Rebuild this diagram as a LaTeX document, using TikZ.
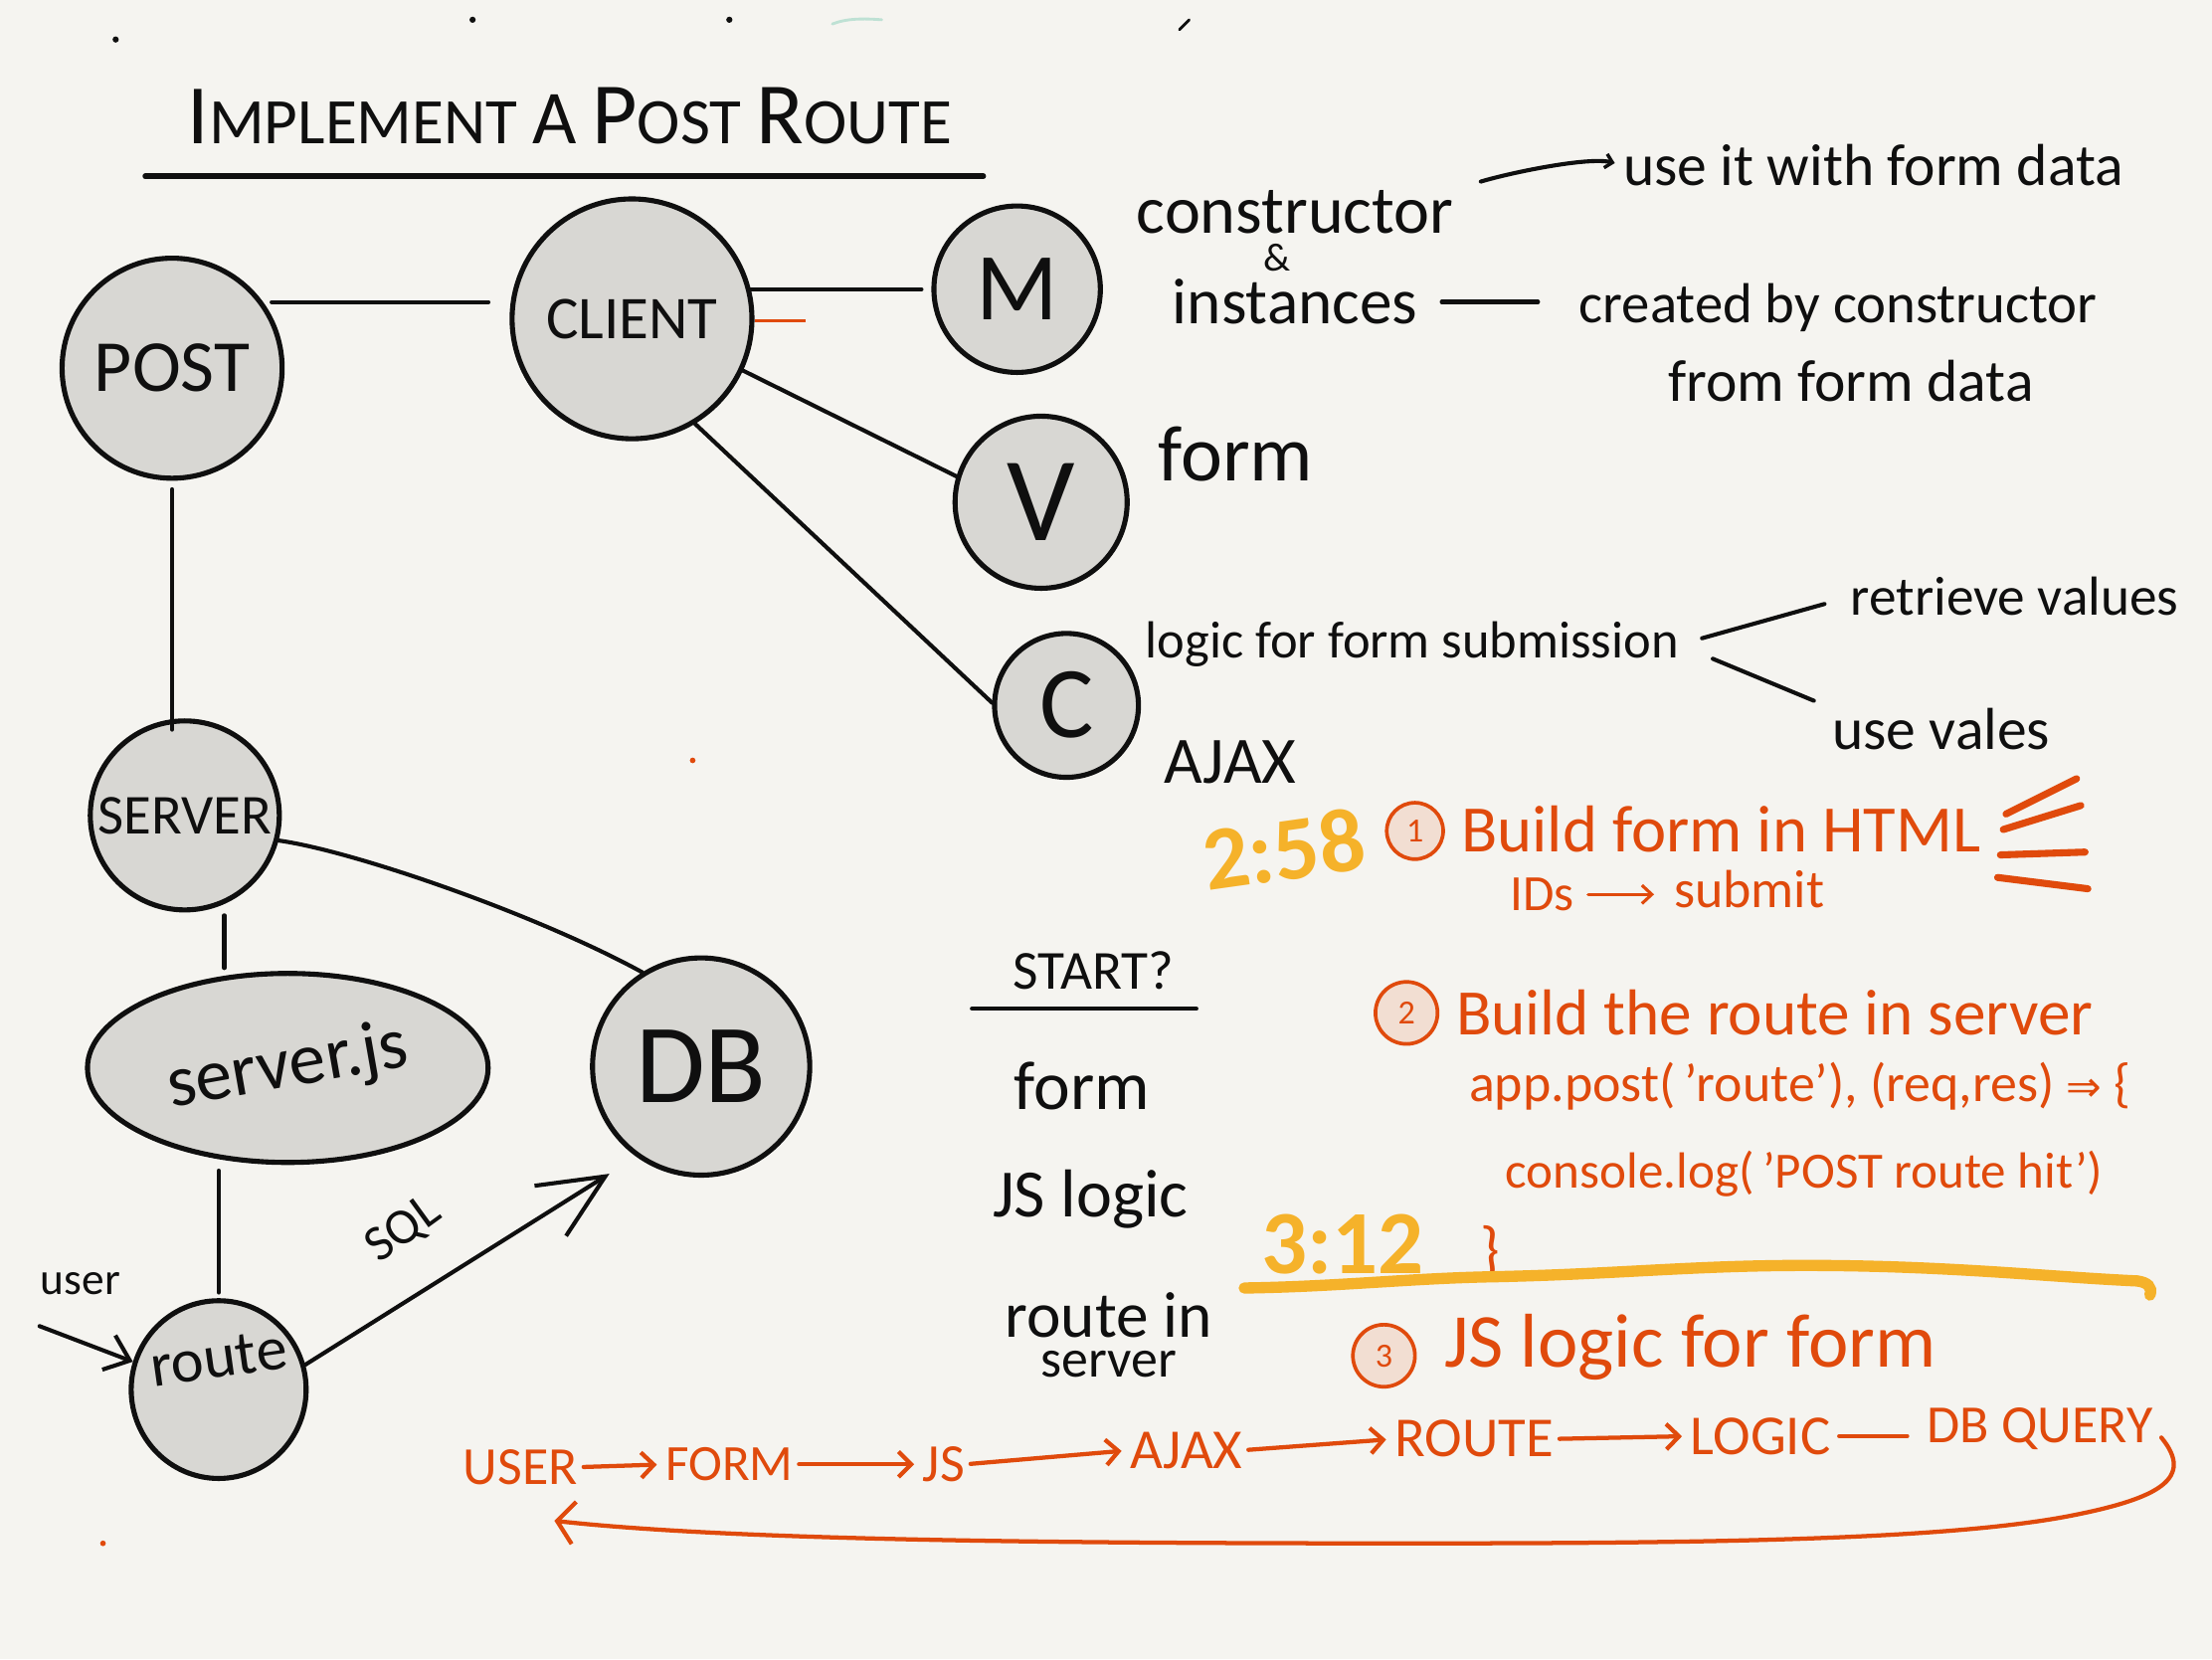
\documentclass[tikz,border=0pt]{standalone}
\usepackage{fontspec}
\setmainfont{Carlito}
\newfontfamily\dvfont{DejaVu Sans}
\usetikzlibrary{arrows.meta,shapes.geometric,calc}
\definecolor{paper}{RGB}{245,244,240}
\definecolor{ink}{RGB}{15,15,15}
\definecolor{bubblefill}{RGB}{216,215,211}
\definecolor{orng}{RGB}{224,74,12}
\definecolor{yell}{RGB}{245,178,42}
\definecolor{peach}{RGB}{242,222,210}
\definecolor{mint}{RGB}{190,225,212}
\newcommand\hs[1]{\fontsize{#1}{#1}\selectfont}
\begin{document}
\begin{tikzpicture}[x=1pt,y=-1pt,
  bubblebase/.style={draw=ink, line width=3.6pt, fill=bubblefill, inner sep=0pt, text=ink},
  bubble/.style={bubblebase, circle},
  oval/.style={bubblebase, ellipse},
  txt/.style={text=ink, inner sep=0pt},
  otxt/.style={text=orng, inner sep=0pt},
  ytxt/.style={text=yell, inner sep=0pt, font={\hs{64}\bfseries}},
  conn/.style={draw=ink, line width=2.9pt, line cap=round},
  oconn/.style={draw=orng, line width=3pt, line cap=round},
  ostroke/.style={draw=orng, line width=5pt, line cap=round},
  yline/.style={draw=yell, line width=8pt, line cap=round},
  num/.style={circle, draw=orng, fill=peach, line width=2.6pt, inner sep=0pt, minimum size=40pt, text=orng, font={\hs{24}}},
  dot/.style={fill=ink, draw=none}
]
\useasboundingbox (0,0) rectangle (1568,1176);
\fill[paper] (0,0) rectangle (1568,1176);

% stray marks
\fill[dot] (82,28) circle (2.2);
\fill[dot] (335,14) circle (2.2);
\fill[dot] (517,14) circle (2.2);
\draw[ink, line width=2pt, line cap=round] (836,21) -- (843,14);
\draw[mint, line width=2pt, line cap=round] (590,17) .. controls (600,13) and (612,13) .. (625,14);
\fill[orng] (491,539) circle (2);
\fill[orng] (73,1094) circle (2);

% title
\node[txt, font={\hs{48}}] (title) at (404,82) {{\hs{60}I}{\hs{46}MPLEMENT} {\hs{54}A} {\hs{62}P}{\hs{46}OST} {\hs{62}R}{\hs{46}OUTE}};
\draw[ink, line width=4pt, line cap=round] (103,125) -- (697,125);

% bubbles
\node[bubble, minimum size=156pt, font={\hs{52}}] (post) at (122,261) {POST};
\node[bubble, minimum size=170pt, font={\hs{43}}] (client) at (448,226) {CLIENT};
\node[bubble, minimum size=118pt, font={\hs{68}}] (m) at (721,205) {M};
\node[bubble, minimum size=122pt, font={\hs{85}}] (v) at (738,356) {V};
\node[bubble, minimum size=102pt, font={\hs{72}}] (c) at (756,500) {C};
\node[bubble, minimum size=134pt, font={\hs{40}}] (server) at (131,578) {SERVER};
\node[oval, minimum width=284pt, minimum height=134pt, font={\hs{52}}] (serverjs) at (204,757) {\makebox[0pt]{\rotatebox{10}{server.js}}};
\node[bubble, minimum size=154pt, font={\hs{80}}] (db) at (497,756) {DB};
\node[oval, minimum width=124pt, minimum height=126pt, font={\hs{44}}] (route) at (155,985) {\raisebox{2pt}[0pt][0pt]{\makebox[0pt]{\rotatebox{8}{route}}}};

% connectors between bubbles
\draw[conn, shorten <=6pt, shorten >=15pt] (post.36) -- (post.36 -| client.west);
\draw[conn, shorten >=7pt] (client.14) -- (client.14 -| m.west);
\draw[orng, line width=2pt] (client.-1) -- ++(36,0);
\draw[conn] (client.-25) -- (v.163);
\draw[conn] (client.-59) -- (c.178);
\draw[conn, shorten <=6pt, shorten >=-8pt] (post.south) -- (post.south |- server.north);
\draw[conn, shorten <=8pt, shorten >=2pt] (server.-66) -- (server.-66 |- serverjs.north);
\draw[conn, shorten <=4pt, shorten >=4pt] (serverjs.south -| route.north) -- (route.north);
\draw[conn] (server.-15) .. controls (250,603) and (380,648) .. (db.122);
\draw[conn, -{Straight Barb[length=46pt,width=42pt,line width=2.9pt]}] (route.16) -- ([shift={(-65,76)}]db.center);
\node[txt, rotate=36, font={\hs{36}}] (sql) at (286,872) {SQL};
\node[txt, font={\hs{32}}] (user) at (57,910) {user};
\coordinate (userin) at (28,940);
\draw[conn, -{Straight Barb[length=16pt,width=26pt,line width=2.9pt]}] (userin) -- (route.162);

% right side notes
\node[txt, font={\hs{48}}] (cons) at (918,150) {constructor};
\node[txt, font={\hs{28}}] (amp) at (905,183) {\&};
\node[txt, font={\hs{46}}] (inst) at (918,214) {instances};
\node[txt, font={\hs{42}}] (useit) at (1328,117) {use it with form data};
\draw[conn, -{Straight Barb[length=5pt,width=10pt,line width=2.4pt]}, shorten <=20pt, shorten >=6pt]
  (cons.north east) .. controls +(40,-12) and +(-25,-6) .. (useit.west);
\node[txt, font={\hs{40}}] (created) at (1303,218) {created by constructor};
\node[txt, font={\hs{42}}] (fromform) at (1312,270) {from form data};
\draw[conn, shorten <=17pt, shorten >=29pt] (inst.east) -- (inst.east -| created.west);
\node[txt, font={\hs{56}}] (formv) at (876,322) {form};
\node[txt, font={\hs{37}}] (logic) at (1001,457) {logic for form submission};
\node[txt, font={\hs{39}}] (retrieve) at (1428,423) {retrieve values};
\node[txt, font={\hs{42}}] (usevales) at (1376,517) {use vales};
\draw[conn, shorten <=17pt, shorten >=19pt] (logic.east) -- (retrieve.west);
\draw[conn, shorten <=26pt, shorten >=14pt] (logic.east) -- (usevales.north west);
\node[txt, font={\hs{47}}] (ajax) at (872,540) {AJAX};

% START? list
\node[txt, font={\hs{39}}] (start) at (775,688) {START?};
\draw[ink, line width=3pt, line cap=round] (689,715) -- (848,715);
\node[txt, font={\hs{49}}] (lform) at (767,770) {form};
\node[txt, font={\hs{48}}] (ljs) at (773,850) {JS logic};
\node[txt, font={\hs{46}}] (lroute) at (786,932) {route in};
\node[txt, font={\hs{38}}] (lserver) at (786,967) {server};

% orange steps
\node[ytxt, rotate=8] (t258) at (910,602) {2:58};
\node[num] (n1) at (1003,589) {1};
\node[otxt, font={\hs{47}}] (b1) at (1220,588) {Build form in HTML};
\draw[ostroke] (1422,577) -- (1472,552);
\draw[ostroke] (1420,588) -- (1475,571);
\draw[ostroke] (1418,606) -- (1478,604);
\draw[ostroke] (1416,622) -- (1480,630);
\node[otxt, font={\hs{36}}] (ids) at (1093,634) {IDs};
\node[otxt, font={\hs{38}}] (submit) at (1240,630) {submit};
\draw[oconn, line width=2.4pt, -{Straight Barb[length=7pt,width=13pt,line width=2.2pt]}, shorten <=10pt, shorten >=14pt] (ids.east) -- (ids.east -| submit.west);

\node[num, minimum size=44pt] (n2) at (997,718) {2};
\node[otxt, font={\hs{46}}] (b2) at (1258,718) {Build the route in server};
\node[otxt, font={\hs{38}}] (app) at (1276,770) {app.post(\,'route'), (req,res) {\dvfont\hs{30}⇒} \{};
\node[otxt, font={\hs{36}}] (console) at (1279,832) {console.log(\,'POST route hit')};
\node[ytxt] (t312) at (952,882) {3:12};
\node[otxt, font={\hs{44}}] (brace) at (1056,888) {\}};
\draw[yline] (882,913) .. controls (950,912) and (1000,906) .. (1060,905)
  .. controls (1150,903) and (1200,897) .. (1280,897)
  .. controls (1380,897) and (1450,905) .. (1515,908)
  .. controls (1522,909) and (1526,912) .. (1524,918);
\node[num, minimum size=44pt] (n3) at (981,961) {3};
\node[otxt, font={\hs{54}}] (b3) at (1198,955) {JS logic for form};

% flow
\node[otxt, font={\hs{38}}] (fuser) at (369,1040) {USER};
\node[otxt, font={\hs{36}}] (fform) at (517,1038) {FORM};
\node[otxt, font={\hs{38}}] (fjs) at (669,1038) {JS};
\node[otxt, font={\hs{40}}] (fajax) at (841,1028) {AJAX};
\node[otxt, font={\hs{40}}] (froute) at (1045,1020) {ROUTE};
\node[otxt, font={\hs{40}}] (flogic) at (1248,1018) {LOGIC};
\node[otxt, font={\hs{38}}] (fdbq) at (1446,1013) {DB QUERY};
\tikzset{farrow/.style={oconn, -{Straight Barb[length=9pt,width=18pt,line width=3pt]}, shorten <=4pt, shorten >=6pt}}
\draw[farrow] (fuser.east) -- (fform.west);
\draw[farrow] (fform.east) -- (fjs.west);
\draw[farrow] (fjs.east) -- (fajax.west);
\draw[farrow] (fajax.east) -- (froute.west);
\draw[farrow] (froute.east) -- (flogic.west);
\draw[oconn, shorten <=6pt, shorten >=14pt] (flogic.east) -- (flogic.east -| fdbq.west);
\draw[oconn, -{Straight Barb[length=12pt,width=30pt,line width=3pt]}]
  ([shift={(6,6)}]fdbq.east) .. controls (1556,1048) and (1530,1062) .. (1470,1074)
  .. controls (1380,1092) and (1200,1094) .. (1000,1094)
  .. controls (750,1094) and (520,1092) .. ([shift={(24,38)}]fuser.center);
\end{tikzpicture}
\end{document}
